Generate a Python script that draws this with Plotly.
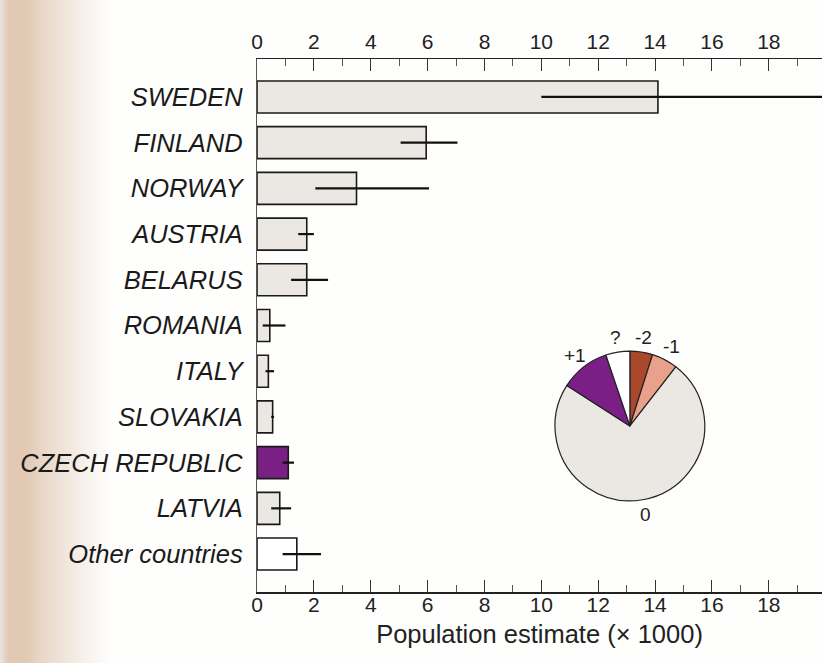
import math
import plotly.graph_objects as go

countries = ["SWEDEN", "FINLAND", "NORWAY", "AUSTRIA", "BELARUS", "ROMANIA",
             "ITALY", "SLOVAKIA", "CZECH REPUBLIC", "LATVIA", "Other countries"]
estimates = [14.1, 5.95, 3.5, 1.75, 1.75, 0.45, 0.4, 0.55, 1.1, 0.8, 1.4]
err_low = [10.0, 5.05, 2.05, 1.45, 1.2, 0.2, 0.3, 0.5, 0.9, 0.5, 0.9]
err_high = [22.0, 7.05, 6.05, 2.0, 2.5, 1.0, 0.6, 0.6, 1.3, 1.2, 2.25]
bar_colors = ["#ebe8e4"] * 8 + ["#7a1f84", "#ebe8e4", "#ffffff"]

trend_labels = ["-2", "-1", "0", "+1", "?"]
trend_shares = [4.9, 5.6, 73.6, 10.7, 5.2]
trend_colors = ["#a9482b", "#e9a18b", "#ebe8e4", "#7b1f87", "#ffffff"]

x_ticks = list(range(0, 20, 2))

font = "Liberation Sans, Arial, Helvetica, sans-serif"

# figure geometry (pixels)
W, H = 822, 663
ML, MR, MT, MB = 257, 0, 59, 71
PW, PH = W - ML - MR, H - MT - MB
pie_dom_x = [0.527, 0.793]
pie_dom_y = [0.171, 0.452]

fig = go.Figure()

fig.add_trace(go.Bar(
    x=estimates, y=countries, orientation="h",
    marker=dict(color=bar_colors, line=dict(color="#1a1a1a", width=1.6)),
    width=0.7,
    error_x=dict(type="data", symmetric=False,
                 array=[h - e for h, e in zip(err_high, estimates)],
                 arrayminus=[e - l for e, l in zip(estimates, err_low)],
                 width=0, thickness=2.2, color="#111111"),
    showlegend=False, hoverinfo="skip",
))

# invisible trace to activate the top axis
fig.add_trace(go.Scatter(x=[0], y=[countries[0]], xaxis="x2", mode="markers",
                         marker=dict(opacity=0), showlegend=False, hoverinfo="skip"))

fig.add_trace(go.Pie(
    labels=trend_labels, values=trend_shares, sort=False, direction="clockwise",
    rotation=0, marker=dict(colors=trend_colors, line=dict(color="#222222", width=1.2)),
    textinfo="none",
    domain=dict(x=pie_dom_x, y=pie_dom_y),
    showlegend=False, hoverinfo="skip",
))

# pie labels placed outside each slice, at its mid angle
annotations = []
cx = sum(pie_dom_x) / 2
cy = sum(pie_dom_y) / 2
total = sum(trend_shares)
cum = 0.0
label_dist = 90  # px from pie centre
for lab, v in zip(trend_labels, trend_shares):
    mid = (cum + v / 2) / total * 2 * math.pi
    cum += v
    dx = math.sin(mid) * label_dist / PW
    dy = math.cos(mid) * label_dist / PH
    annotations.append(dict(text=lab, x=cx + dx, y=cy + dy, xref="paper", yref="paper",
                            showarrow=False, xanchor="center", yanchor="middle",
                            font=dict(family=font, size=19, color="#222222")))

# scanned-page shadow on the left edge (smooth gradient made of thin strips)
def shadow_color(px):
    base = (253, 252, 251)
    peak = (225, 201, 180)
    if px < 8:
        t = px / 8
        c0 = (233, 229, 225)
        return tuple(round(a + (b - a) * t) for a, b in zip(c0, peak))
    if px < 28:
        return peak
    t = min(1.0, (px - 28) / 80)
    t = t ** 0.75
    return tuple(round(a + (b - a) * t) for a, b in zip(peak, base))

shapes = []
for px in range(0, 110, 2):
    r, g, b = shadow_color(px + 1)
    shapes.append(dict(type="rect", xref="paper", yref="paper",
                       x0=(px - ML) / PW, x1=(px + 2.5 - ML) / PW, y0=-1, y1=2,
                       fillcolor=f"rgb({r},{g},{b})", line=dict(width=0), layer="below"))

axis_common = dict(
    range=[0, 19.87], tickvals=x_ticks, ticks="inside", ticklen=12, tickwidth=1,
    tickcolor="#333333", showline=True, linecolor="#222222", linewidth=1.5,
    showgrid=False, zeroline=False, automargin=False,
    tickfont=dict(family=font, size=21, color="#222222"),
    minor=dict(dtick=1, tick0=1, ticks="inside", ticklen=7, tickcolor="#555555", showgrid=False),
)

fig.update_layout(
    template="none",
    width=W, height=H,
    margin=dict(l=ML, r=MR, t=MT, b=MB, autoexpand=False),
    paper_bgcolor="#fefefd", plot_bgcolor="rgba(0,0,0,0)",
    bargap=0.3,
    shapes=shapes,
    annotations=annotations,
    xaxis=dict(**axis_common, side="bottom", anchor="y", ticklabelstandoff=-7,
               title=dict(text="Population estimate (× 1000)", standoff=10,
                          font=dict(family=font, size=25.5, color="#222222"))),
    xaxis2=dict(**axis_common, side="top", overlaying="x", anchor="y", matches="x"),
    yaxis=dict(categoryorder="array", categoryarray=countries, autorange=False,
               range=[10.83, -0.83], showline=True, linecolor="#555555", linewidth=1.2,
               ticks="", showgrid=False, zeroline=False, ticklabelstandoff=8, automargin=False,
               tickfont=dict(family=font, size=25.5, color="#1a1a1a", style="italic")),
)

fig.write_html(
    "out.html",
    config={"displayModeBar": False, "staticPlot": True},
    post_script="document.body.style.margin='0';document.body.style.overflow='hidden';",
)
